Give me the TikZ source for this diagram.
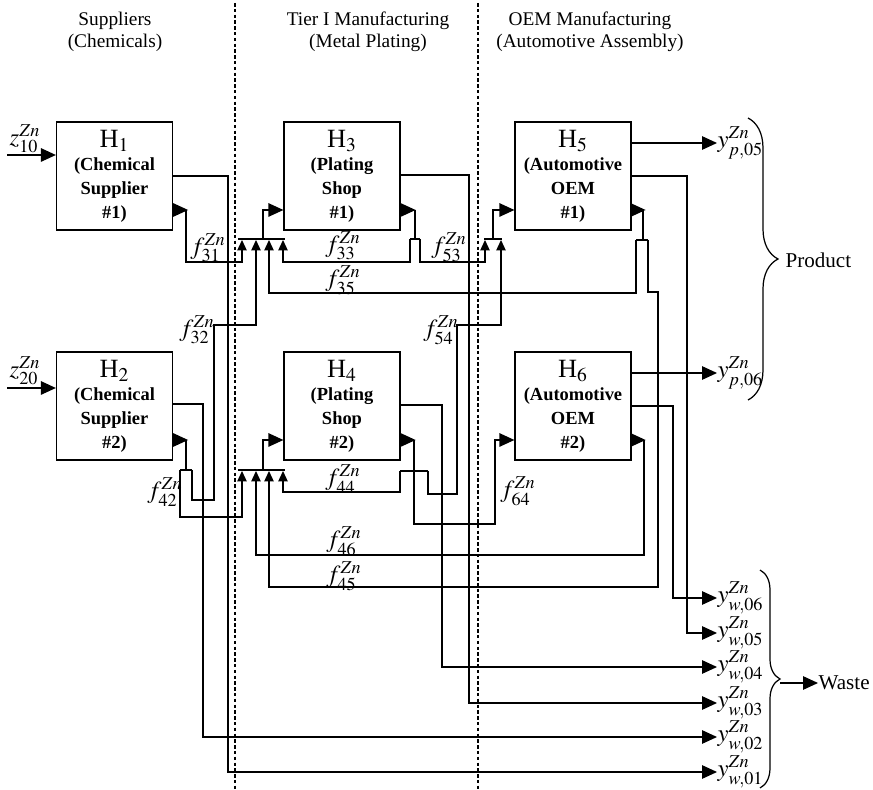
\documentclass[tikz,border=0pt]{standalone}
\usepackage{mathptmx}
\usepackage{fontspec}
\setmainfont{Liberation Serif}
\usetikzlibrary{arrows.meta,decorations.pathreplacing}
\newcommand{\hname}[1]{{\fontsize{15}{15}\selectfont\mdseries H$_{#1}$}}

\begin{document}
\begin{tikzpicture}[x=0.02cm,y=-0.02cm,line width=0.7pt,
    unit/.style={draw,minimum width=2.32cm,minimum height=2.16cm,align=center,inner sep=0pt,
      font=\fontsize{10.5}{13.5}\selectfont\bfseries},
    big/.style={-{Triangle[length=0.3cm,width=0.27cm]}},
    small/.style={-{Triangle[length=0.21cm,width=0.19cm]}},
    flow/.style={inner sep=0pt,font=\fontsize{14}{16}\selectfont},
    head/.style={align=center,font=\fontsize{11}{12.5}\selectfont},
    divider/.style={dash pattern=on 2pt off 1.3pt,line width=0.8pt}]
  \useasboundingbox (0,0) rectangle (873,790);

  % column headings and dividers
  \node[head] (sup) at (115,32) {Suppliers\\(Chemicals)};
  \node[head] (tier) at (368,32) {Tier I Manufacturing\\(Metal Plating)};
  \node[head] (oem) at (590,32) {OEM Manufacturing\\(Automotive Assembly)};
  \draw[divider] (235,3) -- (235,790);
  \draw[divider] (478,3) -- (478,790);

  % units
  \node[unit] (h1) at (114.5,176) {\hname{1}\\(Chemical\\Supplier\\\#1)};
  \node[unit] (h2) at (114.5,406) {\hname{2}\\(Chemical\\Supplier\\\#2)};
  \node[unit] (h3) at (342,176) {\hname{3}\\(Plating\\Shop\\\#1)};
  \node[unit] (h4) at (342,406) {\hname{4}\\(Plating\\Shop\\\#2)};
  \node[unit] (h5) at (573,176) {\hname{5}\\(Automotive\\OEM\\\#1)};
  \node[unit] (h6) at (573,406) {\hname{6}\\(Automotive\\OEM\\\#2)};

  % fresh feeds
  \coordinate (in1) at (7,155);
  \coordinate (in2) at (7,388);
  \draw[big] (in1) -- (h1.west |- in1);
  \draw[big] (in2) -- (h2.west |- in2);
  \node[flow] (z10) at (25,139) {$z^{Zn}_{10}$};
  \node[flow] (z20) at (25,371) {$z^{Zn}_{20}$};

  % outlet labels
  \node[flow,anchor=west] (yp5) at (717,143) {$y^{Zn}_{p,05}$};
  \node[flow,anchor=west] (yp6) at (717,373) {$y^{Zn}_{p,06}$};
  \node[flow,anchor=west] (yw6) at (717,598) {$y^{Zn}_{w,06}$};
  \node[flow,anchor=west] (yw5) at (717,633) {$y^{Zn}_{w,05}$};
  \node[flow,anchor=west] (yw4) at (717,667) {$y^{Zn}_{w,04}$};
  \node[flow,anchor=west] (yw3) at (717,703) {$y^{Zn}_{w,03}$};
  \node[flow,anchor=west] (yw2) at (717,737) {$y^{Zn}_{w,02}$};
  \node[flow,anchor=west] (yw1) at (717,772) {$y^{Zn}_{w,01}$};

  % product and waste streams
  \draw[big] (h5.east |- yp5) -- (yp5.west);
  \draw[big] (h6.east |- yp6) -- (yp6.west);
  \draw[big] (h1.east) -| (228,772) -- (yw1.west);
  \draw[big] (h2.east |- 0,404) -| (203,737) -- (yw2.west);
  \draw[big] (h3.east |- 0,175) -| (469,703) -- (yw3.west);
  \draw[big] (h4.east |- 0,405) -| (442,667) -- (yw4.west);
  \draw[big] (h5.east) -| (687,633) -- (yw5.west);
  \draw[big] (h6.east) -| (673,598) -- (yw6.west);

  % mixers
  \coordinate (m3) at (263,239);
  \coordinate (m4) at (263,470);
  \coordinate (m5) at (493,239);
  \draw (238,239) -- (285,239);
  \draw (238,470) -- (285,470);
  \draw (484,239) -- (502,239);
  \draw[big] (m3) |- (h3.west |- 0,210);
  \draw[big] (m4) |- (h4.west |- 0,440);
  \draw[big] (m5) |- (h5.west |- 0,210);

  % recycle outlets
  \draw[big] (h1.east |- 0,210) -- ++(15,0);
  \draw[big] (h2.east |- 0,440) -- ++(15,0);
  \draw[big] (h3.east |- 0,210) -- ++(15,0);
  \draw[big] (h4.east |- 0,440) -- ++(15,0);
  \draw[big] (h5.east |- 0,210) -- ++(14,0);
  \draw[big] (h6.east |- 0,440) -- ++(14,0);

  % H1 and H2
  \draw[small] (186,210) |- (242,262) -- (242,240);
  \draw (186,440) -- (186,470);
  \draw (180,470) -- (192,470);
  \draw[small] (180,470) |- (242,517) -- (242,471);
  \draw[small] (192,470) |- (214,500) |- (256,325) -- (256,240);

  % H3
  \draw (415,210) -- (415,239);
  \draw (410,239) -- (420,239);
  \draw[small] (410,239) |- (283,262) -- (283,240);
  \draw[small] (420,239) |- (485,262) -- (485,240);

  % H4
  \draw[big] (414,440) |- (495,524) |- (h6.west |- 0,440);
  \draw (400,471) -- (428,471);
  \draw[small] (400,471) |- (283,492) -- (283,471);
  \draw[small] (428,471) |- (457,494) |- (501,325) -- (501,240);

  % H5 and H6
  \draw (643,210) -- (643,240);
  \draw (636,240) -- (648,240);
  \draw[small] (636,240) |- (269,293) -- (269,240);
  \draw[small] (648,240) |- (658,292) |- (269,587) -- (269,471);
  \draw[small] (644,440) |- (256,555) -- (256,471);

  % stream labels
  \node[flow] (f31) at (208,248) {$f^{Zn}_{31}$};
  \node[flow] (f33) at (343,246) {$f^{Zn}_{33}$};
  \node[flow] (f35) at (343,280) {$f^{Zn}_{35}$};
  \node[flow] (f53) at (449,247) {$f^{Zn}_{53}$};
  \node[flow] (f32) at (197,330) {$f^{Zn}_{32}$};
  \node[flow] (f54) at (441,330) {$f^{Zn}_{54}$};
  \node[flow] (f42) at (165,492) {$f^{Zn}_{42}$};
  \node[flow] (f44) at (343,479) {$f^{Zn}_{44}$};
  \node[flow] (f64) at (518,491) {$f^{Zn}_{64}$};
  \node[flow] (f46) at (344,541) {$f^{Zn}_{46}$};
  \node[flow] (f45) at (344,576) {$f^{Zn}_{45}$};

  % braces
  \draw[decorate,decoration={brace,amplitude=0.6cm}] (748,118) -- (748,400);
  \node[anchor=west,inner sep=0pt,font=\fontsize{12}{14}\selectfont] (prod) at (785,260) {Product};
  \draw[decorate,decoration={brace,amplitude=0.4cm}] (760,570) -- (760,788);
  \node[anchor=west,inner sep=0pt,font=\fontsize{12}{14}\selectfont] (waste) at (818,683) {Waste};
  \draw[big] (780,683) -- (waste.west);
\end{tikzpicture}
\end{document}
